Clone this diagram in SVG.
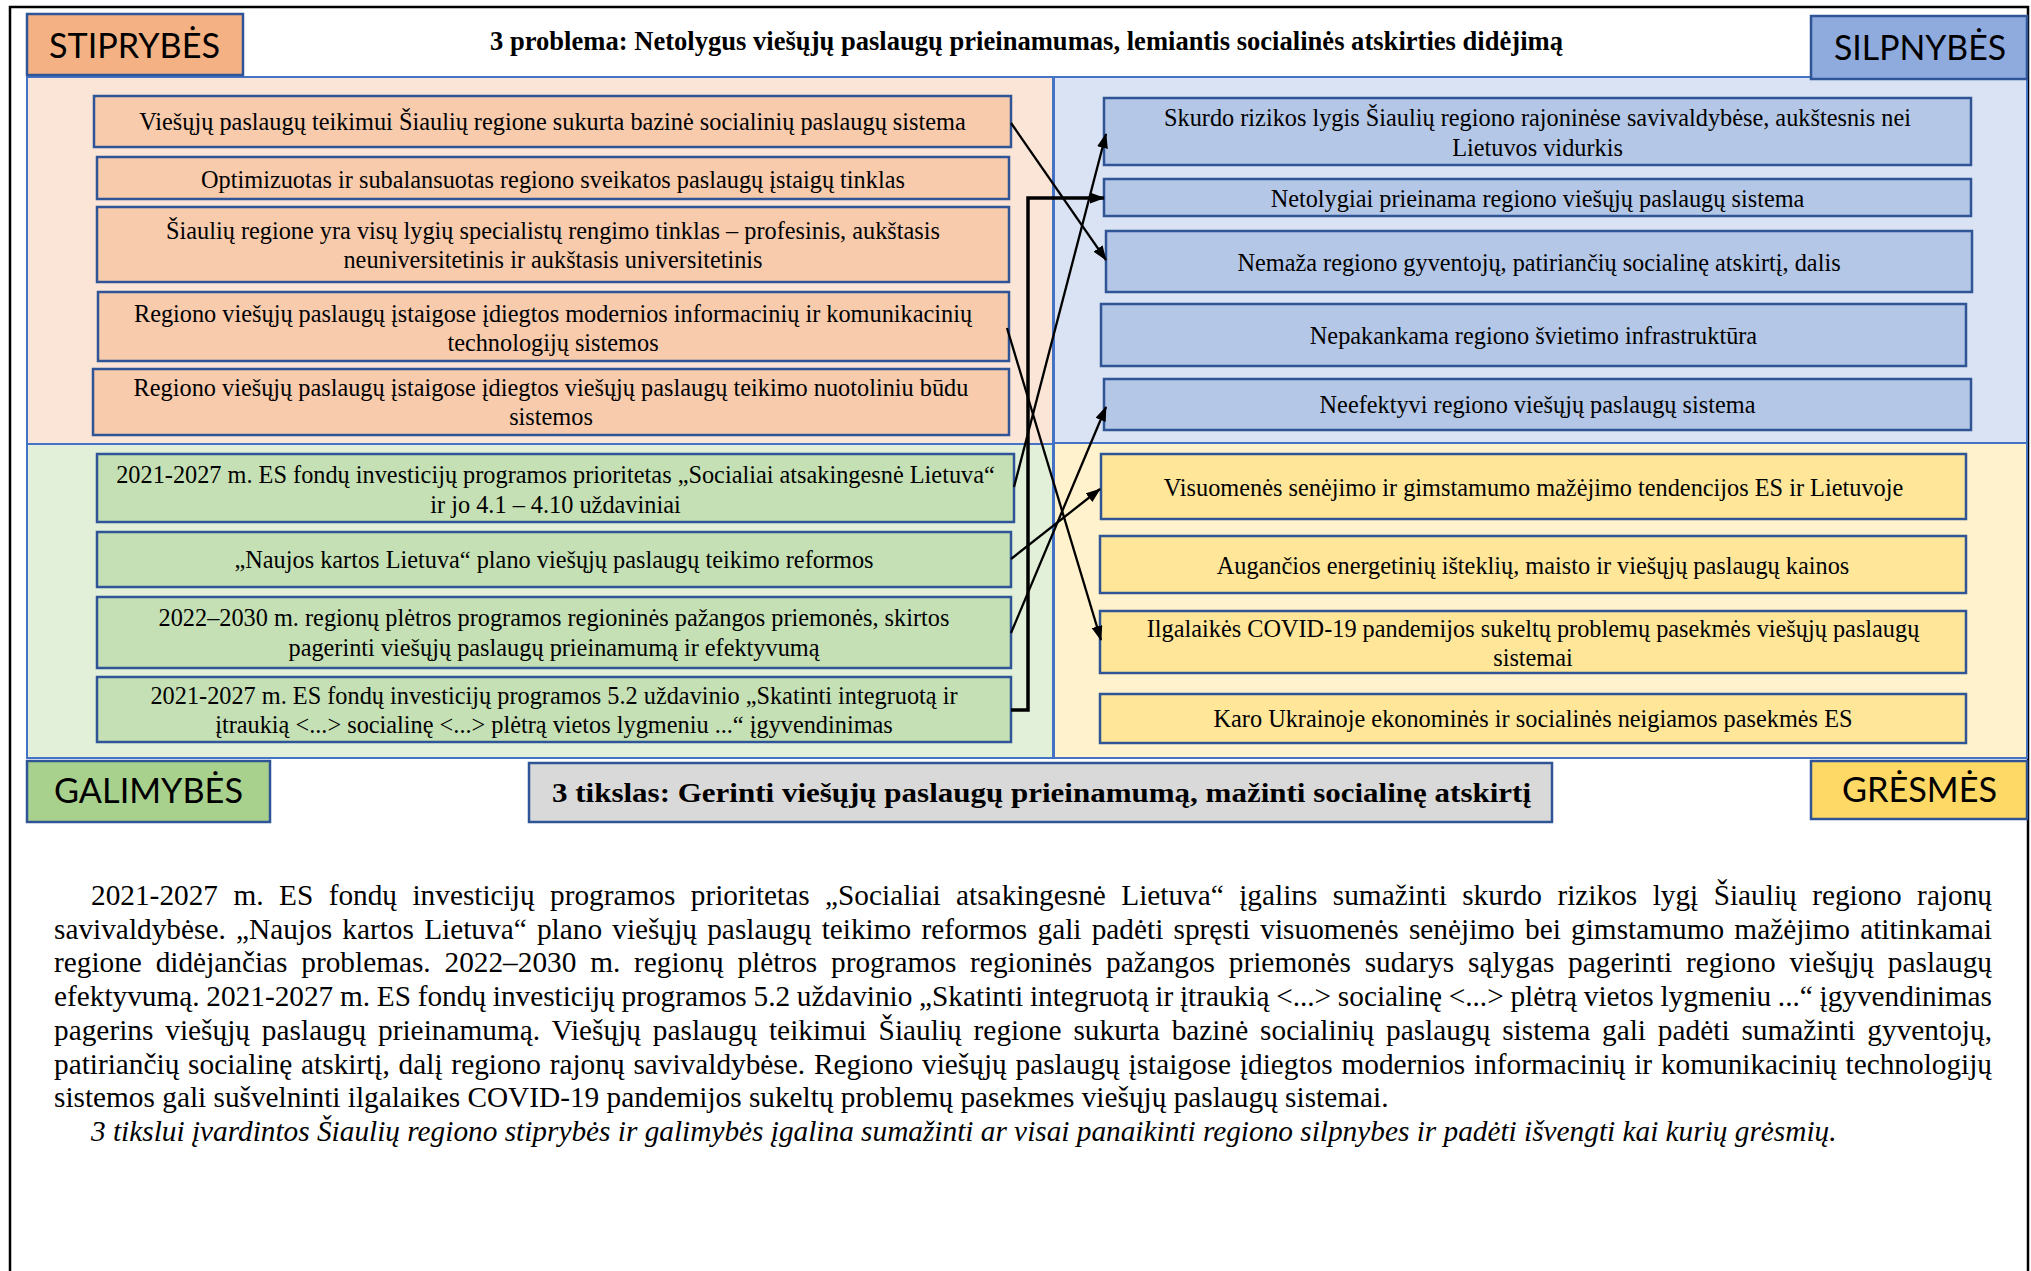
<svg xmlns="http://www.w3.org/2000/svg" width="2031" height="1271" viewBox="0 0 2031 1271">
<defs>
<style>
.bg{fill:#ffffff}
.frame{fill:none;stroke:#000;stroke-width:2.5}
.panel{stroke:#4472C4;stroke-width:2}
.box{stroke:#2F5597;stroke-width:2.5}
.hbox{stroke:#2F5597;stroke-width:2.5}
.or{fill:#F8CBAD}.bl{fill:#B4C7E7}.gr{fill:#C5E0B4}.ye{fill:#FFE699}
.t{font-family:"Liberation Serif","Times New Roman",serif;font-size:24.3px;fill:#000;text-anchor:middle}
.hdr{font-family:Lato,"Liberation Sans",sans-serif;font-size:34px;fill:#000;text-anchor:middle}
.ttl{font-family:"Liberation Serif","Times New Roman",serif;font-weight:bold;fill:#000;text-anchor:middle}
.para{font-family:"Liberation Serif","Times New Roman",serif;font-size:29.3px;fill:#000}
.conn{fill:none;stroke:#000;stroke-width:2.3}
.conn2{fill:none;stroke:#000;stroke-width:3.5}
</style>
<marker id="ah" markerWidth="15" markerHeight="11" refX="14" refY="5.5" orient="auto" markerUnits="userSpaceOnUse">
<path d="M0,0 L15,5.5 L0,11 z" fill="#000"/>
</marker>
</defs>
<rect class="bg" x="0" y="0" width="2031" height="1271"/>
<path class="frame" d="M10,1275 V7 H2028 V1275"/>

<g id="panels">
<rect class="panel" x="27" y="77" width="1026" height="367" fill="#FBE5D6"/>
<rect class="panel" x="1054" y="77" width="973" height="366" fill="#DAE3F3"/>
<rect class="panel" x="27" y="444" width="1026" height="314" fill="#E2F0D9"/>
<rect class="panel" x="1054" y="443" width="973" height="315" fill="#FFF2CC"/>
</g>

<g id="title">
<text class="ttl" x="1026.5" y="50" font-size="26.6" textLength="1073" lengthAdjust="spacingAndGlyphs">3 problema: Netolygus viešųjų paslaugų prieinamumas, lemiantis socialinės atskirties didėjimą</text>
</g>

<g id="hdr-stiprybes">
<rect class="hbox" x="27" y="14" width="216" height="61" fill="#F4B183"/>
<text class="hdr" x="134.5" y="58" textLength="171" lengthAdjust="spacingAndGlyphs">STIPRYBĖS</text>
</g>
<g id="hdr-silpnybes">
<rect class="hbox" x="1811" y="16" width="216" height="63" fill="#8FAADC"/>
<text class="hdr" x="1920" y="60" textLength="172" lengthAdjust="spacingAndGlyphs">SILPNYBĖS</text>
</g>
<g id="hdr-galimybes">
<rect class="hbox" x="27" y="761" width="243" height="61" fill="#A9D18E"/>
<text class="hdr" x="148.5" y="803" textLength="189" lengthAdjust="spacingAndGlyphs">GALIMYBĖS</text>
</g>
<g id="hdr-gresmes">
<rect class="hbox" x="1811" y="761" width="216" height="58" fill="#FFD966"/>
<text class="hdr" x="1919.5" y="802" textLength="155" lengthAdjust="spacingAndGlyphs">GRĖSMĖS</text>
</g>

<g id="goal">
<rect class="hbox" x="529" y="763" width="1023" height="59" fill="#D9D9D9"/>
<text class="ttl" x="1041.5" y="802" font-size="28.3" textLength="979" lengthAdjust="spacingAndGlyphs">3 tikslas: Gerinti viešųjų paslaugų prieinamumą, mažinti socialinę atskirtį</text>
</g>

<g id="s1"><rect class="box or" x="94" y="96" width="917" height="51"/><text class="t" x="552.5" y="130">Viešųjų paslaugų teikimui Šiaulių regione sukurta bazinė socialinių paslaugų sistema</text></g>
<g id="s2"><rect class="box or" x="97" y="157" width="912" height="42"/><text class="t" x="553" y="188">Optimizuotas ir subalansuotas regiono sveikatos paslaugų įstaigų tinklas</text></g>
<g id="s3"><rect class="box or" x="97" y="207" width="912" height="75"/><text class="t" x="553" y="239">Šiaulių regione yra visų lygių specialistų rengimo tinklas – profesinis, aukštasis</text><text class="t" x="553" y="268">neuniversitetinis ir aukštasis universitetinis</text></g>
<g id="s4"><rect class="box or" x="98" y="292" width="911" height="69"/><text class="t" x="553" y="322">Regiono viešųjų paslaugų įstaigose įdiegtos modernios informacinių ir komunikacinių</text><text class="t" x="553" y="351">technologijų sistemos</text></g>
<g id="s5"><rect class="box or" x="93" y="369" width="916" height="66"/><text class="t" x="551" y="396">Regiono viešųjų paslaugų įstaigose įdiegtos viešųjų paslaugų teikimo nuotoliniu būdu</text><text class="t" x="551" y="425">sistemos</text></g>

<g id="w1"><rect class="box bl" x="1104" y="98" width="867" height="67"/><text class="t" x="1537.5" y="126">Skurdo rizikos lygis Šiaulių regiono rajoninėse savivaldybėse, aukštesnis nei</text><text class="t" x="1537.5" y="156">Lietuvos vidurkis</text></g>
<g id="w2"><rect class="box bl" x="1104" y="179" width="867" height="37"/><text class="t" x="1537.5" y="207">Netolygiai prieinama regiono viešųjų paslaugų sistema</text></g>
<g id="w3"><rect class="box bl" x="1106" y="231" width="866" height="61"/><text class="t" x="1539" y="271">Nemaža regiono gyventojų, patiriančių socialinę atskirtį, dalis</text></g>
<g id="w4"><rect class="box bl" x="1101" y="304" width="865" height="62"/><text class="t" x="1533.5" y="344">Nepakankama regiono švietimo infrastruktūra</text></g>
<g id="w5"><rect class="box bl" x="1104" y="379" width="867" height="51"/><text class="t" x="1537.5" y="413">Neefektyvi regiono viešųjų paslaugų sistema</text></g>

<g id="o1"><rect class="box gr" x="97" y="454" width="917" height="68"/><text class="t" x="555.5" y="483">2021-2027 m. ES fondų investicijų programos prioritetas „Socialiai atsakingesnė Lietuva“</text><text class="t" x="555.5" y="513">ir jo 4.1 – 4.10 uždaviniai</text></g>
<g id="o2"><rect class="box gr" x="97" y="532" width="914" height="55"/><text class="t" x="554" y="568">„Naujos kartos Lietuva“ plano viešųjų paslaugų teikimo reformos</text></g>
<g id="o3"><rect class="box gr" x="97" y="597" width="914" height="71"/><text class="t" x="554" y="626">2022–2030 m. regionų plėtros programos regioninės pažangos priemonės, skirtos</text><text class="t" x="554" y="656">pagerinti viešųjų paslaugų prieinamumą ir efektyvumą</text></g>
<g id="o4"><rect class="box gr" x="97" y="677" width="914" height="65"/><text class="t" x="554" y="704">2021-2027 m. ES fondų investicijų programos 5.2 uždavinio „Skatinti integruotą ir</text><text class="t" x="554" y="733">įtraukią &lt;...&gt; socialinę &lt;...&gt; plėtrą vietos lygmeniu ...“ įgyvendinimas</text></g>

<g id="th1"><rect class="box ye" x="1101" y="454" width="865" height="65"/><text class="t" x="1533.5" y="496">Visuomenės senėjimo ir gimstamumo mažėjimo tendencijos ES ir Lietuvoje</text></g>
<g id="th2"><rect class="box ye" x="1100" y="536" width="866" height="57"/><text class="t" x="1533" y="574">Augančios energetinių išteklių, maisto ir viešųjų paslaugų kainos</text></g>
<g id="th3"><rect class="box ye" x="1100" y="611" width="866" height="62"/><text class="t" x="1533" y="637">Ilgalaikės COVID-19 pandemijos sukeltų problemų pasekmės viešųjų paslaugų</text><text class="t" x="1533" y="666">sistemai</text></g>
<g id="th4"><rect class="box ye" x="1100" y="694" width="866" height="49"/><text class="t" x="1533" y="727">Karo Ukrainoje ekonominės ir socialinės neigiamos pasekmės ES</text></g>

<g id="connectors">
<line class="conn" x1="1011" y1="123" x2="1106" y2="260" marker-end="url(#ah)"/>
<line class="conn" x1="1007" y1="328" x2="1101" y2="640" marker-end="url(#ah)"/>
<line class="conn" x1="1014" y1="487" x2="1106" y2="134" marker-end="url(#ah)"/>
<line class="conn" x1="1011" y1="559" x2="1100" y2="489" marker-end="url(#ah)"/>
<line class="conn" x1="1011" y1="633" x2="1106" y2="407" marker-end="url(#ah)"/>
<polyline class="conn2" points="1011,710 1028,710 1028,198 1104,198" marker-end="url(#ah)"/>
</g>

<g id="paragraph">
<text class="para" x="91" y="905" word-spacing="8.1" textLength="1901" lengthAdjust="spacing">2021-2027 m. ES fondų investicijų programos prioritetas „Socialiai atsakingesnė Lietuva“ įgalins sumažinti skurdo rizikos lygį Šiaulių regiono rajonų</text>
<text class="para" x="54" y="938.7" word-spacing="2.9" textLength="1938" lengthAdjust="spacing">savivaldybėse. „Naujos kartos Lietuva“ plano viešųjų paslaugų teikimo reformos gali padėti spręsti visuomenės senėjimo bei gimstamumo mažėjimo atitinkamai</text>
<text class="para" x="54" y="972.4" word-spacing="6.5" textLength="1938" lengthAdjust="spacing">regione didėjančias problemas. 2022–2030 m. regionų plėtros programos regioninės pažangos priemonės sudarys sąlygas pagerinti regiono viešųjų paslaugų</text>
<text class="para" x="54" y="1006.1" word-spacing="-0.6" textLength="1938" lengthAdjust="spacing">efektyvumą. 2021-2027 m. ES fondų investicijų programos 5.2 uždavinio „Skatinti integruotą ir įtraukią &lt;...&gt; socialinę &lt;...&gt; plėtrą vietos lygmeniu ...“ įgyvendinimas</text>
<text class="para" x="54" y="1039.8" word-spacing="4.5" textLength="1938" lengthAdjust="spacing">pagerins viešųjų paslaugų prieinamumą. Viešųjų paslaugų teikimui Šiaulių regione sukurta bazinė socialinių paslaugų sistema gali padėti sumažinti gyventojų,</text>
<text class="para" x="54" y="1073.5" word-spacing="1.5" textLength="1938" lengthAdjust="spacing">patiriančių socialinę atskirtį, dalį regiono rajonų savivaldybėse. Regiono viešųjų paslaugų įstaigose įdiegtos modernios informacinių ir komunikacinių technologijų</text>
<text class="para" x="54" y="1107.2">sistemos gali sušvelninti ilgalaikes COVID-19 pandemijos sukeltų problemų pasekmes viešųjų paslaugų sistemai.</text>
<text class="para" x="91" y="1140.9" font-style="italic">3 tikslui įvardintos Šiaulių regiono stiprybės ir galimybės įgalina sumažinti ar visai panaikinti regiono silpnybes ir padėti išvengti kai kurių grėsmių.</text>
</g>
</svg>
